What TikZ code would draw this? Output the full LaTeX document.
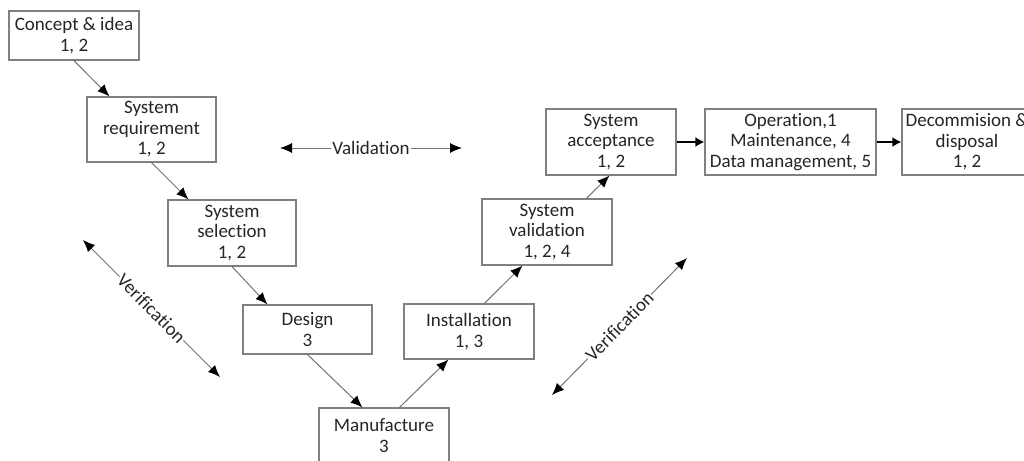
\documentclass[tikz,border=0pt]{standalone}
\usepackage{fontspec}
\setmainfont{Carlito}[Ligatures=NoCommon]
\usetikzlibrary{arrows.meta}

\begin{document}
\begin{tikzpicture}[x=1pt,y=-1pt,
    box/.style={draw=black!50,line width=1.1pt,fill=white,inner sep=0pt,
      align=center,text=black!85,font=\fontsize{19}{20.5}\selectfont,
      minimum width=130pt,minimum height=49pt},
    flow/.style={draw=black!55,line width=1pt,-{Latex[black,length=12pt,width=10pt]}},
    link/.style={draw=black,line width=2pt,-{Latex[black,length=9pt,width=10pt]}},
    twoway/.style={draw=black!55,line width=1pt,{Latex[black,length=12pt,width=10pt]}-{Latex[black,length=12pt,width=10pt]}},
    tag/.style={fill=white,inner sep=1pt,text=black!85,font=\fontsize{19}{20.5}\selectfont}]
  \useasboundingbox (0,0) rectangle (1024,460);
  \clip (0,0) rectangle (1024,460);
  % Left branch
  \node[box] (concept) at (74,35.5) {Concept \& idea\\1, 2};
  \node[box,minimum width=129pt,minimum height=65pt] (req) at (151.5,129.5) {System\\requirement\\1, 2};
  \node[box,minimum width=128pt,minimum height=66pt] (sel) at (232,233) {System\\selection\\1, 2};
  \node[box,minimum width=129pt] (design) at (307.5,329.5) {Design\\3};
  \node[box,minimum height=55pt] (manuf) at (384,435.5) {Manufacture\\3};
  % Right branch
  \node[box,minimum height=55pt] (install) at (469,331.5) {Installation\\1, 3};
  \node[box,minimum height=66pt] (val) at (547,232) {System\\validation\\1, 2, 4};
  \node[box,minimum height=66pt] (acc) at (611,142) {System\\acceptance\\1, 2};
  % Top row
  \node[box,minimum width=171pt,minimum height=66pt] (op) at (790.5,142) {Operation,1\\Maintenance, 4\\Data management, 5};
  \node[box,minimum height=66pt] (decom) at (967,142) {Decommision \&\\disposal\\1, 2};
  % Flow arrows
  \draw[flow] (concept.south) -- ([xshift=23]req.north west);
  \draw[flow] (req.south) -- ([xshift=21]sel.north west);
  \draw[flow] (sel.south) -- ([xshift=25]design.north west);
  \draw[flow] (design.south) -- ([xshift=44]manuf.north west);
  \draw[flow] ([xshift=81]manuf.north west) -- ([xshift=45]install.south west);
  \draw[flow] ([xshift=81]install.north west) -- ([xshift=41]val.south west);
  \draw[flow] ([xshift=105]val.north west) -- ([xshift=64]acc.south west);
  \draw[link] (acc.east) -- (op.west);
  \draw[link] (op.east) -- (decom.west);
  % Validation and verification
  \coordinate (valL) at (280,148);
  \coordinate (valR) at (462,148);
  \coordinate (verLa) at (83,240);
  \coordinate (verLb) at (220,377);
  \coordinate (verRa) at (552,395);
  \coordinate (verRb) at (687,258);
  \draw[twoway] (valL) -- node[tag]{Validation} (valR);
  \draw[twoway] (verLa) -- node[tag,sloped]{Verification} (verLb);
  \draw[twoway] (verRa) -- node[tag,sloped]{Verification} (verRb);
\end{tikzpicture}
\end{document}
